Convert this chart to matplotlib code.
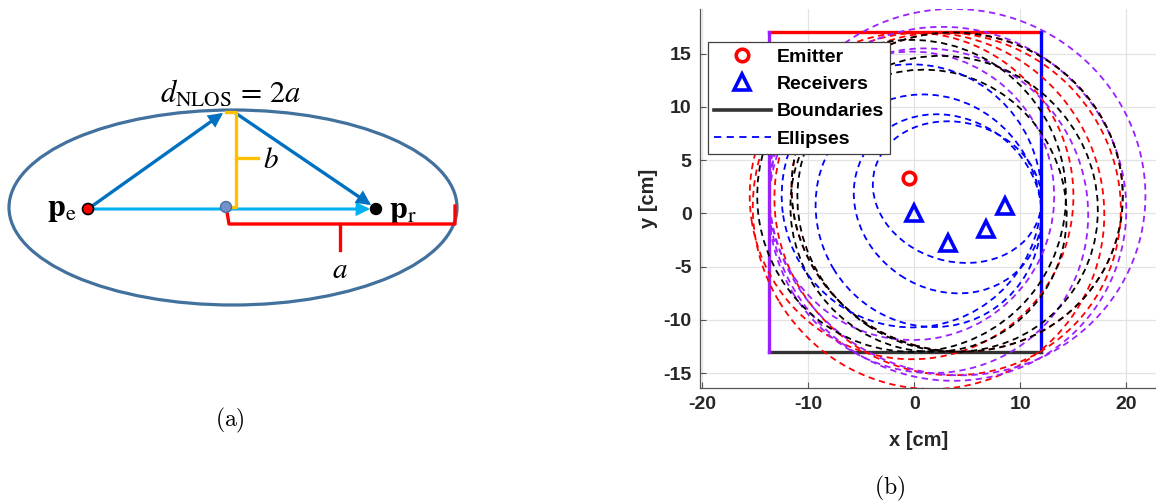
import numpy as np
import matplotlib
matplotlib.use("Agg")
import matplotlib.pyplot as plt
from matplotlib.patches import Ellipse, Circle
from matplotlib.lines import Line2D
from matplotlib.font_manager import FontProperties

plt.rcParams["axes.unicode_minus"] = False

# ---------------- data (panel b) ----------------
emitter_x = [-0.5]
emitter_y = [3.3]
receiver_x = [0.0, 3.2, 6.8, 8.6]
receiver_y = [0.0, -2.8, -1.5, 0.7]

# boundary walls [cm]
wall_left, wall_right, wall_bottom, wall_top = -13.7, 12.0, -13.0, 17.0

# semi-major axes (a = d_NLOS / 2) of the ellipses, one per receiver, per wall
semi_major_top = [15.35, 16.85, 16.51, 15.67]      # red
semi_major_right = [12.36, 11.08, 9.17, 8.06]      # blue
semi_major_bottom = [14.65, 13.38, 14.37, 15.67]   # black
semi_major_left = [13.55, 15.36, 17.02, 17.80]     # purple

x_ticks = [-20, -10, 0, 10, 20]
y_ticks = [-15, -10, -5, 0, 5, 10, 15]

RED = "#FF0000"
BLUE = "#0000FF"
PURPLE = "#9B1FFF"

W, H = 1156, 503
fig = plt.figure(figsize=(W / 100, H / 100), dpi=100)


def mfp(fontset, size, **kw):
    return FontProperties(size=size, math_fontfamily=fontset, **kw)


# ---------------- panel (a): schematic ----------------
axa = fig.add_axes([0, 0, 0.5, 1])
axa.set_xlim(0, W / 2)
axa.set_ylim(H, 0)
axa.axis("off")

ell_c = (233, 207.5)
ell_rx, ell_ry = 224, 97.5
p_e = (88, 209)
p_r = (376, 209)
p_mid = (226, 207)
apex = (228, 112)

axa.add_patch(Ellipse(ell_c, 2 * ell_rx, 2 * ell_ry, fill=False,
                      edgecolor="#41719C", lw=2.3, zorder=1))

arrow_kw = dict(arrowstyle="-|>", mutation_scale=17, shrinkA=0, shrinkB=0,
                joinstyle="miter")
axa.annotate("", xy=(p_r[0] - 6, p_r[1]), xytext=p_e,
             arrowprops=dict(color="#00B0F0", lw=2.2, **arrow_kw), zorder=2)
axa.annotate("", xy=(apex[0] - 5, apex[1] + 1), xytext=p_e,
             arrowprops=dict(color="#0070C0", lw=2.4, **arrow_kw), zorder=3)
axa.annotate("", xy=(p_r[0] - 5, p_r[1] - 4), xytext=(apex[0] + 6, apex[1]),
             arrowprops=dict(color="#0070C0", lw=2.4, **arrow_kw), zorder=3)

# b bracket (yellow)
axa.plot([226, 236, 236, 229], [112, 112, 207, 207], color="#FFC000", lw=2.4,
         solid_joinstyle="round", zorder=4)
axa.plot([236, 258], [158, 158], color="#FFC000", lw=2.4, zorder=4)
# a bracket (red)
axa.plot([227, 229, 455, 455], [212, 224, 224, 206], color="#FF0000", lw=2.4,
         solid_joinstyle="round", zorder=4)
axa.plot([340, 340], [224, 250], color="#FF0000", lw=2.4, zorder=4)

axa.add_patch(Circle(p_e, 5.5, facecolor="#FF0000", edgecolor="black", lw=1.2, zorder=5))
axa.add_patch(Circle(p_r, 5.5, facecolor="black", edgecolor="black", lw=1.0, zorder=5))
axa.add_patch(Circle(p_mid, 5.5, facecolor="#6F93C9", edgecolor="#4A6FA5", lw=1.0, zorder=5))

axa.text(231, 93, r"$d_{\mathrm{NLOS}}\,=\,2a$", fontproperties=mfp("stix", 22),
         ha="center", va="center")
axa.text(62, 209, r"$\mathbf{p}_{\mathrm{e}}$", fontproperties=mfp("stix", 23),
         ha="center", va="center")
axa.text(403, 210, r"$\mathbf{p}_{\mathrm{r}}$", fontproperties=mfp("stix", 23),
         ha="center", va="center")
axa.text(271, 160, r"$b$", fontproperties=mfp("stix", 21), ha="center", va="center")
axa.text(340, 270, r"$a$", fontproperties=mfp("stix", 21), ha="center", va="center")

axa.text(230, 420, r"$\mathrm{(a)}$", fontproperties=mfp("cm", 17),
         ha="center", va="center")
fig.text(890 / W, 1 - 488 / H, r"$\mathrm{(b)}$", fontproperties=mfp("cm", 17),
         ha="center", va="center")

# ---------------- panel (b): geometry plot ----------------
ax = fig.add_axes([700 / W, 115 / H, 456 / W, 379 / H])
ax.set_xlim(-20.2, 22.8)
ax.set_ylim(-16.4, 19.2)

ax.set_xticks(x_ticks)
ax.set_yticks(y_ticks)
ax.grid(True, color="#E3E3E3", lw=0.9)
ax.set_axisbelow(True)
for s in ["top", "right"]:
    ax.spines[s].set_visible(False)
for s in ["left", "bottom"]:
    ax.spines[s].set_color("#555555")
    ax.spines[s].set_linewidth(0.9)
ax.tick_params(direction="in", length=4, width=0.8, color="#555555",
               labelsize=14, labelcolor="#262626", pad=6)
for lab in ax.get_xticklabels() + ax.get_yticklabels():
    lab.set_fontweight("bold")
    lab.set_family("Liberation Sans")

ax.plot(emitter_x, emitter_y, "o", ms=9, mfc="none", mec=RED, mew=2.6,
        label="Emitter", zorder=3)
ax.plot(receiver_x, receiver_y, "^", ms=11, mfc="none", mec=BLUE, mew=2.6,
        label="Receivers", zorder=3)

ax.plot([wall_left, wall_right], [wall_top, wall_top], color=RED, lw=2.4, zorder=2)
ax.plot([wall_right, wall_right], [wall_bottom, wall_top], color=BLUE, lw=2.4, zorder=2)
ax.plot([wall_left, wall_right], [wall_bottom, wall_bottom], color="#333333", lw=2.4, zorder=2)
ax.plot([wall_left, wall_left], [wall_bottom, wall_top], color=PURPLE, lw=2.4, zorder=2)


def draw_ellipses(semi_major, color):
    for rx, ry, a in zip(receiver_x, receiver_y, semi_major):
        fx, fy = emitter_x[0], emitter_y[0]
        cx, cy = (fx + rx) / 2, (fy + ry) / 2
        c = np.hypot(rx - fx, ry - fy) / 2
        b = np.sqrt(a ** 2 - c ** 2)
        ang = np.degrees(np.arctan2(ry - fy, rx - fx))
        ax.add_patch(Ellipse((cx, cy), 2 * a, 2 * b, angle=ang, fill=False,
                             edgecolor=color, lw=1.3, ls=(0, (3.5, 2.5)),
                             zorder=4))


draw_ellipses(semi_major_top, RED)
draw_ellipses(semi_major_left, PURPLE)
draw_ellipses(semi_major_bottom, "black")
draw_ellipses(semi_major_right, BLUE)

handles = [
    Line2D([], [], ls="none", marker="o", ms=9, mfc="none", mec=RED, mew=2.6),
    Line2D([], [], ls="none", marker="^", ms=11, mfc="none", mec=BLUE, mew=2.6),
    Line2D([], [], color="#333333", lw=2.6),
    Line2D([], [], color=BLUE, lw=1.3, ls=(0, (4.0, 3.0))),
]
leg = ax.legend(handles, ["Emitter", "Receivers", "Boundaries", "Ellipses"],
                loc="upper left", bbox_to_anchor=(0.0175, 0.913), borderaxespad=0,
                prop=FontProperties(family="Liberation Sans", weight="bold", size=14),
                handlelength=2.9, handletextpad=0.3, borderpad=0.32,
                labelspacing=0.5, fancybox=False, framealpha=1,
                edgecolor="#404040")
leg.get_frame().set_linewidth(0.9)
leg.set_zorder(10)

ax.set_xlabel("x [cm]", fontsize=14.5, fontweight="bold", family="Liberation Sans",
              color="#262626")
ax.set_ylabel("y [cm]", fontsize=14.5, fontweight="bold", family="Liberation Sans",
              color="#262626")
ax.xaxis.set_label_coords((919 - 700) / 456, (H - 440 - 115) / 379)
ax.xaxis.label.set_va("center")
ax.yaxis.set_label_coords((648 - 700) / 456, (H - 198 - 115) / 379)
ax.yaxis.label.set_va("center")

fig.savefig("out.png", dpi=100)
